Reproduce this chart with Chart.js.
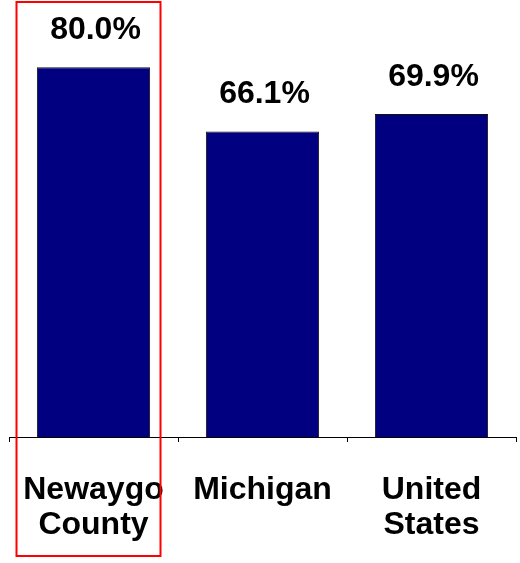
<!DOCTYPE html>
<html>
<head>
<meta charset="utf-8">
<script src="https://cdn.jsdelivr.net/npm/chart.js@4/dist/chart.umd.min.js"></script>
<style>
  html, body { margin: 0; padding: 0; background: #fff; }
  #wrap { width: 520px; height: 563px; }
</style>
</head>
<body>
<div id="wrap"><canvas id="rateChart"></canvas></div>
<script>
// data
const places = [["Newaygo", "County"], "Michigan", ["United", "States"]];
const rates = [80.0, 66.1, 69.9];
const highlightIndex = 0;

const fontFamily = "'Liberation Sans', Arial, sans-serif";

// value labels above each bar
const valueLabels = {
  id: "valueLabels",
  afterDatasetsDraw(chart) {
    const ctx = chart.ctx;
    const meta = chart.getDatasetMeta(0);
    ctx.save();
    ctx.font = "bold 32px " + fontFamily;
    ctx.fillStyle = "#000";
    ctx.textAlign = "center";
    ctx.textBaseline = "alphabetic";
    meta.data.forEach((bar, i) => {
      ctx.fillText(rates[i].toFixed(1) + "%", bar.x + 2, bar.y - 28);
    });
    ctx.restore();
  }
};

// red box round the highlighted county
const highlightBox = {
  id: "highlightBox",
  afterDraw(chart) {
    const ctx = chart.ctx;
    const x = chart.scales.x.getPixelForValue(highlightIndex);
    ctx.save();
    ctx.strokeStyle = "#ff0000";
    ctx.lineWidth = 2;
    ctx.strokeRect(x - 77, 2, 144, 554);
    ctx.restore();
  }
};

new Chart(document.getElementById("rateChart"), {
  type: "bar",
  data: {
    labels: places,
    datasets: [{
      data: rates,
      backgroundColor: "#000080",
      borderColor: "#111",
      borderWidth: 1,
      categoryPercentage: 1,
      barPercentage: 0.67,
    }],
  },
  options: {
    responsive: true,
    maintainAspectRatio: false,
    animation: false,
    layout: { padding: { top: 21, left: 9, right: 4, bottom: 0 } },
    plugins: {
      legend: { display: false },
      tooltip: { enabled: false },
    },
    scales: {
      x: {
        afterFit(scale) {
          scale.height = 126;
          scale.paddingLeft = 0;
          scale.paddingRight = 0;
        },
        border: { color: "#000", width: 1 },
        grid: {
          drawOnChartArea: false,
          drawTicks: true,
          tickLength: 5,
          color: "#000",
          offset: true,
        },
        ticks: {
          color: "#000",
          padding: 31,
          maxRotation: 0,
          autoSkip: false,
          font: { family: fontFamily, size: 32, weight: "bold", lineHeight: 1.09 },
        },
      },
      y: {
        display: false,
        min: 0,
        max: 90,
      },
    },
  },
  plugins: [valueLabels, highlightBox],
});
</script>
</body>
</html>
